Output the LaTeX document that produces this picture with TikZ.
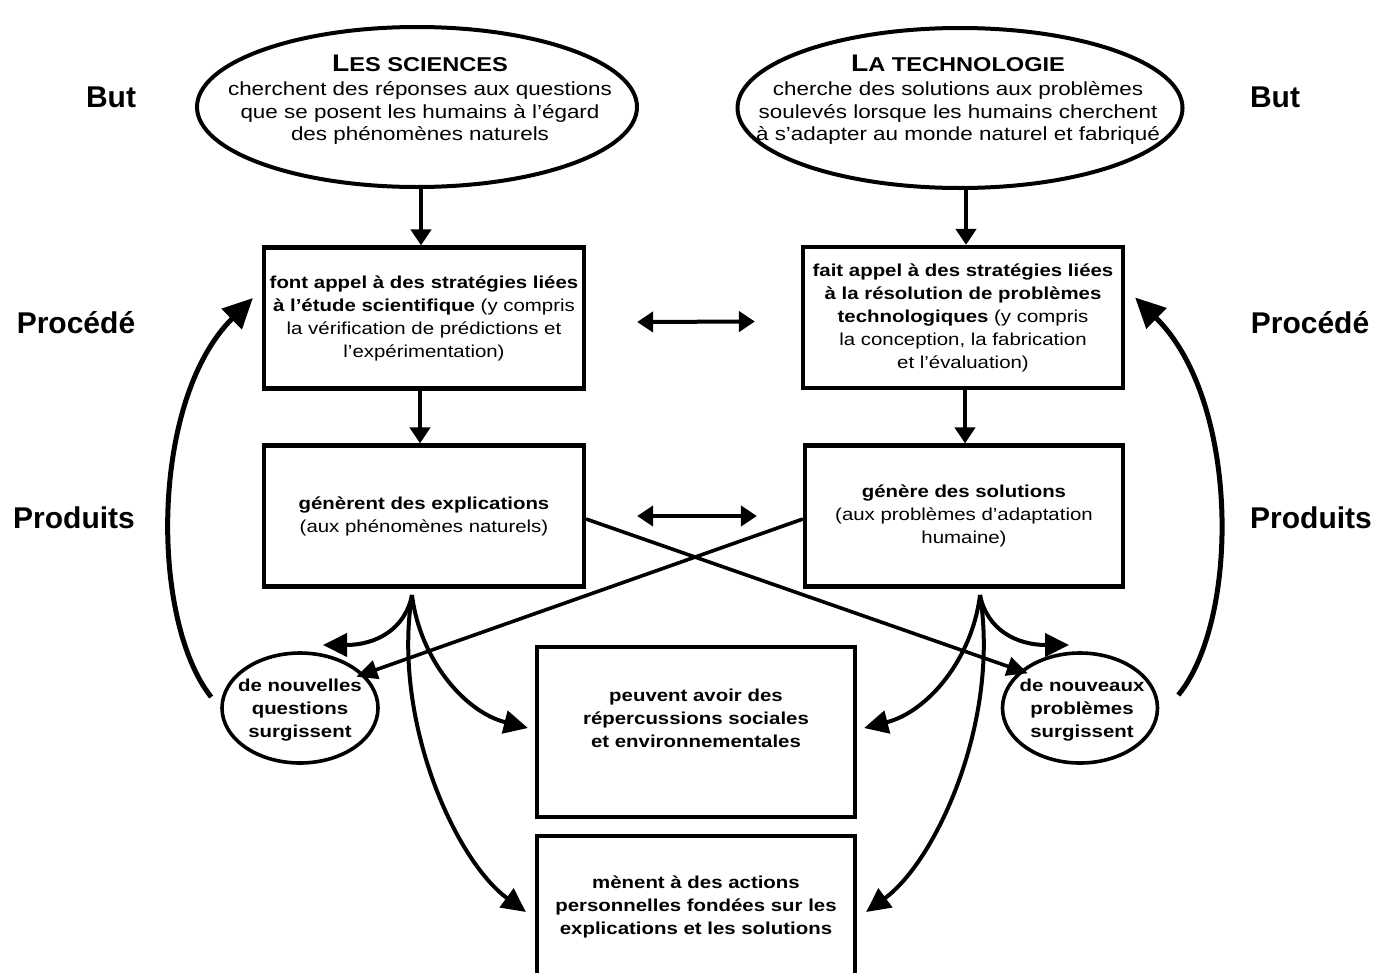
\documentclass[tikz,border=0pt]{standalone}
\usepackage{fontspec}
\setmainfont{Liberation Sans}
\newfontfamily\st[FakeStretch=1.18]{Liberation Sans}
\usetikzlibrary{shapes.geometric,arrows.meta,calc}
\begin{document}
\begin{tikzpicture}[x=1pt,y=-1pt,
  lbl/.style={font=\fontsize{30}{30}\selectfont\bfseries, inner sep=0, anchor=base},
  bigell/.style={draw, ellipse, line width=4pt, minimum width=440pt, minimum height=160pt, inner sep=0},
  smell/.style={draw, ellipse, line width=3.6pt, minimum width=156pt, minimum height=110pt, inner sep=0},
  ttl/.style={inner sep=0, font=\st\bfseries},
  body/.style={align=center, inner sep=0, font={\st\fontsize{19}{22.5}\selectfont}},
  boxn/.style={draw, rectangle, line width=4.2pt, minimum width=320pt, minimum height=141pt, align=center, inner sep=0, font={\st\fontsize{17.3}{23}\selectfont}},
  sbold/.style={align=center, inner sep=0, font={\st\fontsize{17.3}{23}\selectfont\bfseries}},
  arr/.style={line width=4pt, -{Triangle[length=16pt,width=20pt]}},
  darr/.style={line width=4pt, {Triangle[length=16pt,width=20pt]}-{Triangle[length=16pt,width=20pt]}},
  barr/.style={line width=4pt, -{Triangle[length=24pt,width=23pt]}},
  larr/.style={line width=5pt, -{Triangle[length=30pt,width=28pt]}},
  xarr/.style={line width=3.6pt, -{Triangle[length=21pt,width=19pt]}}
]
\useasboundingbox (0,0) rectangle (1392,972);
\clip (0,0) rectangle (1392,972);

% side labels
\node[lbl] (but1) at (111,107) {But};
\node[lbl] (but2) at (1275,107) {But};
\node[lbl] (pro1) at (76,333) {Procédé};
\node[lbl] (pro2) at (1310,333) {Procédé};
\node[lbl] (prd1) at (74,528) {Produits};
\node[lbl] (prd2) at (1311,528) {Produits};

% top ellipses
\node[bigell] (sci) at (417,107) {};
\node[ttl] (sciT) at (420,63) {\fontsize{24}{24}\selectfont L\fontsize{20}{20}\selectfont ES SCIENCES};
\node[body] (sciB) at (420,113) {cherchent des réponses aux questions\\que se posent les humains à l’égard\\des phénomènes naturels};

\node[bigell, minimum width=445pt] (tech) at (960,108) {};
\node[ttl] (techT) at (958,63) {\fontsize{24}{24}\selectfont L\fontsize{20}{20}\selectfont A TECHNOLOGIE};
\node[body] (techB) at (958,113) {cherche des solutions aux problèmes\\soulevés lorsque les humains cherchent\\à s’adapter au monde naturel et fabriqué};

% boxes
\node[boxn] (A) at (424,318) {\textbf{font appel à des stratégies liées}\\\textbf{à l’étude scientifique} (y compris\\la vérification de prédictions et\\l’expérimentation)};
\node[boxn] (B) at (963,317.5) {\textbf{fait appel à des stratégies liées}\\\textbf{à la résolution de problèmes}\\\textbf{technologiques} (y compris\\la conception, la fabrication\\et l’évaluation)};
\node[boxn] (C) at (424,516) {\textbf{génèrent des explications}\\(aux phénomènes naturels)};
\node[boxn, minimum width=318pt] (D) at (964,516) {\textbf{génère des solutions}\\(aux problèmes d’adaptation\\humaine)};
\node[boxn, minimum width=318pt, minimum height=170pt] (E) at (696,732) {};
\node[sbold] (Et) at (696,718) {peuvent avoir des\\répercussions sociales\\et environnementales};
\node[boxn, minimum width=318pt, minimum height=164pt] (F) at (696,918) {};
\node[sbold] (Ft) at (696,907) {mènent à des actions\\personnelles fondées sur les\\explications et les solutions};

% small ellipses
\node[smell] (qE) at (300,708) {};
\node[sbold] (qEt) at (300,710) {de nouvelles\\questions\\surgissent};
\node[smell, minimum width=155pt] (pE) at (1080,708) {};
\node[sbold] (pEt) at (1082,710) {de nouveaux\\problèmes\\surgissent};

% straight arrows
\draw[arr] ([xshift=4pt]sci.south) -- ([xshift=-3pt]A.north);
\draw[arr] ([xshift=6pt]tech.south) -- ([xshift=3pt]B.north);
\draw[arr] ([xshift=-4pt]A.south) -- ([xshift=-4pt]C.north);
\draw[arr] ([xshift=2pt]B.south) -- ([xshift=1pt]D.north);
\draw[darr] ([xshift=51pt,yshift=-4pt]A.east) -- ([xshift=-46pt,yshift=-4pt]B.west);
\draw[darr] ([xshift=51pt]C.east) -- ([xshift=-46pt]D.west);

% crossing lines
\draw[xarr, shorten >=-8pt] ([yshift=-3pt]C.east) -- (pE.148);
\draw[xarr, shorten >=-8pt] ([yshift=-3pt]D.west) -- (qE.28);

% branch origins
\coordinate (cO) at (412,595);
\coordinate (dO) at (980,595);
\coordinate (qTip) at (323,645);
\coordinate (pTip) at (1069,645);

% left branches
\draw[barr] (cO) .. controls (405,630) and (375,645) .. (qTip);
\draw[barr] (cO) .. controls (420,660) and (465,712) .. ([xshift=-7pt,yshift=4pt]E.west);
\draw[barr] (cO) .. controls (392,720) and (455,860) .. ([xshift=-9pt,yshift=6pt]F.west);
% right branches
\draw[barr] (dO) .. controls (987,630) and (1017,645) .. (pTip);
\draw[barr] (dO) .. controls (972,660) and (927,712) .. ([xshift=7pt,yshift=4pt]E.east);
\draw[barr] (dO) .. controls (1000,720) and (937,860) .. ([xshift=9pt,yshift=6pt]F.east);

% big feedback arrows
\draw[larr] ([xshift=-9pt,yshift=11pt]qE.west) .. controls (150,620) and (150,400) .. ([xshift=-9pt,yshift=20pt]A.west);
\draw[larr] ([xshift=19pt,yshift=13pt]pE.east) .. controls (1240,620) and (1240,400) .. ([xshift=10pt,yshift=20pt]B.east);
\end{tikzpicture}
\end{document}
